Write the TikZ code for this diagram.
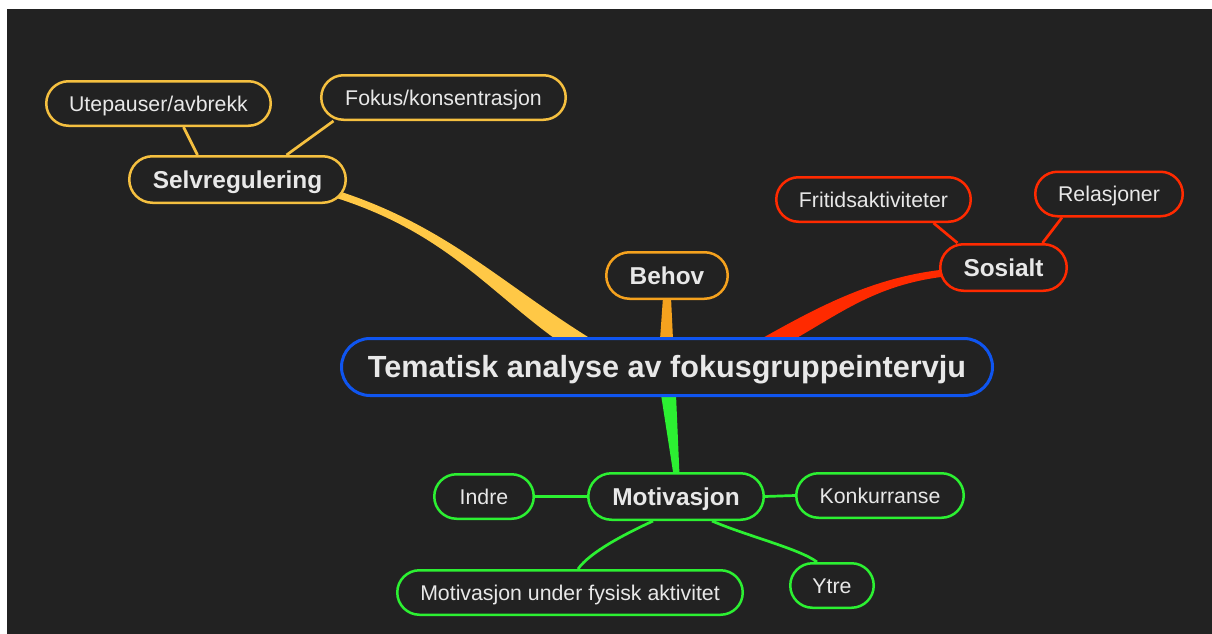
\documentclass[tikz,border=0pt]{standalone}
\usepackage{fontspec}
\setmainfont{Liberation Sans}
\usetikzlibrary{calc}

\definecolor{bg}{HTML}{222222}
\definecolor{ink}{HTML}{E8E8E8}
\definecolor{cblue}{HTML}{0F55F0}
\definecolor{cyellow}{HTML}{F5C040}
\definecolor{cyellowb}{HTML}{FFC846}
\definecolor{corange}{HTML}{F5A21E}
\definecolor{cred}{HTML}{FF2A00}
\definecolor{cgreen}{HTML}{2CF032}

\pgfdeclarelayer{back}
\pgfdeclarelayer{branch}
\pgfsetlayers{back,branch,main}

% text height equals the cap height of each size, so capitals sit centred in the pill
\tikzset{
  pill/.style={rectangle, fill=bg, text=ink, inner xsep=0pt, inner ysep=0pt,
    line width=2.5pt, text depth=0pt},
  rootnode/.style={pill, draw=cblue, line width=3pt, minimum height=57pt, rounded corners=28.5pt,
    text height=21.9pt, font=\bfseries\fontsize{30.6}{36}\selectfont},
  topicnode/.style={pill, minimum height=46.5pt, rounded corners=23.25pt,
    text height=17.5pt, font=\bfseries\fontsize{24.4}{28}\selectfont},
  leafnode/.style={pill, minimum height=44.5pt, rounded corners=22.25pt,
    text height=15.25pt, font=\fontsize{21.3}{25}\selectfont},
  twig/.style={line width=2.7pt},
}

\begin{document}
\begin{tikzpicture}[x=1pt,y=-1pt]
  \useasboundingbox (0,0) rectangle (1212,634);

  % page and canvas
  \begin{pgfonlayer}{back}
    \fill[white] (0,0) rectangle (1212,634);
    \fill[bg] (7,9) rectangle (1212,634);
  \end{pgfonlayer}

  % central topic
  \node[rootnode, minimum width=651pt] (c) at (667,367) {Tematisk analyse av fokusgruppeintervju};

  % main topics
  \node[topicnode, draw=corange, minimum width=121.5pt] (behov) at (667,275.5) {Behov};
  \node[topicnode, draw=cyellow, minimum width=216.5pt] (sel) at (237.5,179.5) {Selvregulering};
  \node[topicnode, draw=cred, minimum width=126.5pt] (sos) at (1003.5,267.5) {Sosialt};
  \node[topicnode, draw=cgreen, minimum width=175.5pt] (mot) at (676,496.5) {Motivasjon};

  % subtopics
  \node[leafnode, draw=cyellow, minimum width=224.5pt] (ute) at (158.5,103.5) {Utepauser/avbrekk};
  \node[leafnode, draw=cyellow, minimum width=244.5pt] (fok) at (443.5,97.5) {Fokus/konsentrasjon};
  \node[leafnode, draw=cred, minimum width=194.5pt] (frit) at (873.5,199.5) {Fritidsaktiviteter};
  \node[leafnode, draw=cred, minimum width=147.5pt] (rel) at (1109,194) {Relasjoner};
  \node[leafnode, draw=cgreen, minimum width=99.5pt] (indre) at (484,496.5) {Indre};
  \node[leafnode, draw=cgreen, minimum width=167.5pt] (konk) at (880,495.5) {Konkurranse};
  \node[leafnode, draw=cgreen, minimum width=345.5pt] (mufa) at (570,592.5) {Motivasjon under fysisk aktivitet};
  \node[leafnode, draw=cgreen, minimum width=83.5pt] (ytre) at (832,585.5) {Ytre};

  \begin{pgfonlayer}{branch}
    % tapered main branches
    \fill[cyellowb]
      ($(sel.east)+(-11.75,10.5)$) .. controls ($(sel.east)+(98.25,45.5)$) and ($(c.north)+(-167,-54.5)$)
      .. ($(c.north)+(-75,2.5)$) -- ($(c.north)+(-111,2.5)$)
      .. controls ($(c.north)+(-181,-48.5)$) and ($(sel.east)+(95.25,51.5)$) .. ($(sel.east)+(-13.75,17.5)$) -- cycle;
    \fill[cred]
      ($(c.north)+(93,2.5)$) .. controls ($(c.north)+(155,-32.5)$) and ($(sos.west)+(-62.25,8.5)$)
      .. ($(sos.west)+(9.75,1.5)$) -- ($(sos.west)+(10.75,8.5)$)
      .. controls ($(sos.west)+(-59.25,15.5)$) and ($(c.north)+(176,-25.5)$) .. ($(c.north)+(127,2.5)$) -- cycle;
    \fill[corange]
      ($(c.north)+(-7,2.5)$) -- ($(behov.south)+(-4,-2.75)$) -- ($(behov.south)+(4,-2.75)$) -- ($(c.north)+(6,2.5)$) -- cycle;
    \fill[cgreen]
      ($(c.south)+(-6,-2.5)$) -- ($(mot.north)+(-2.5,3)$) -- ($(mot.north)+(3.5,3)$) -- ($(c.south)+(9,-2.5)$) -- cycle;

    % thin sub-branches
    \draw[twig, cyellow] ([xshift=25pt]ute.south) -- ([xshift=-40pt]sel.north);
    \draw[twig, cyellow] ([xshift=-110pt]fok.south) -- ([xshift=49pt]sel.north);
    \draw[twig, cred] ([xshift=60pt]frit.south) -- ([xshift=-46pt]sos.north);
    \draw[twig, cred] ([xshift=-47pt]rel.south) -- ([xshift=39pt]sos.north);
    \draw[twig, cgreen] (indre.east) -- (mot.west);
    \draw[twig, cgreen] (mot.east) -- (konk.west);
    \draw[twig, cgreen] ([xshift=-23pt]mot.south) .. controls ($(mot.south)+(-51,13)$) and ($(mufa.north)+(20,-17)$) .. ([xshift=8pt]mufa.north);
    \draw[twig, cgreen] ([xshift=36pt]mot.south) .. controls ($(mot.south)+(71,15)$) and ($(ytre.north)+(-32,-13)$) .. ([xshift=-15pt]ytre.north);
  \end{pgfonlayer}
\end{tikzpicture}
\end{document}
